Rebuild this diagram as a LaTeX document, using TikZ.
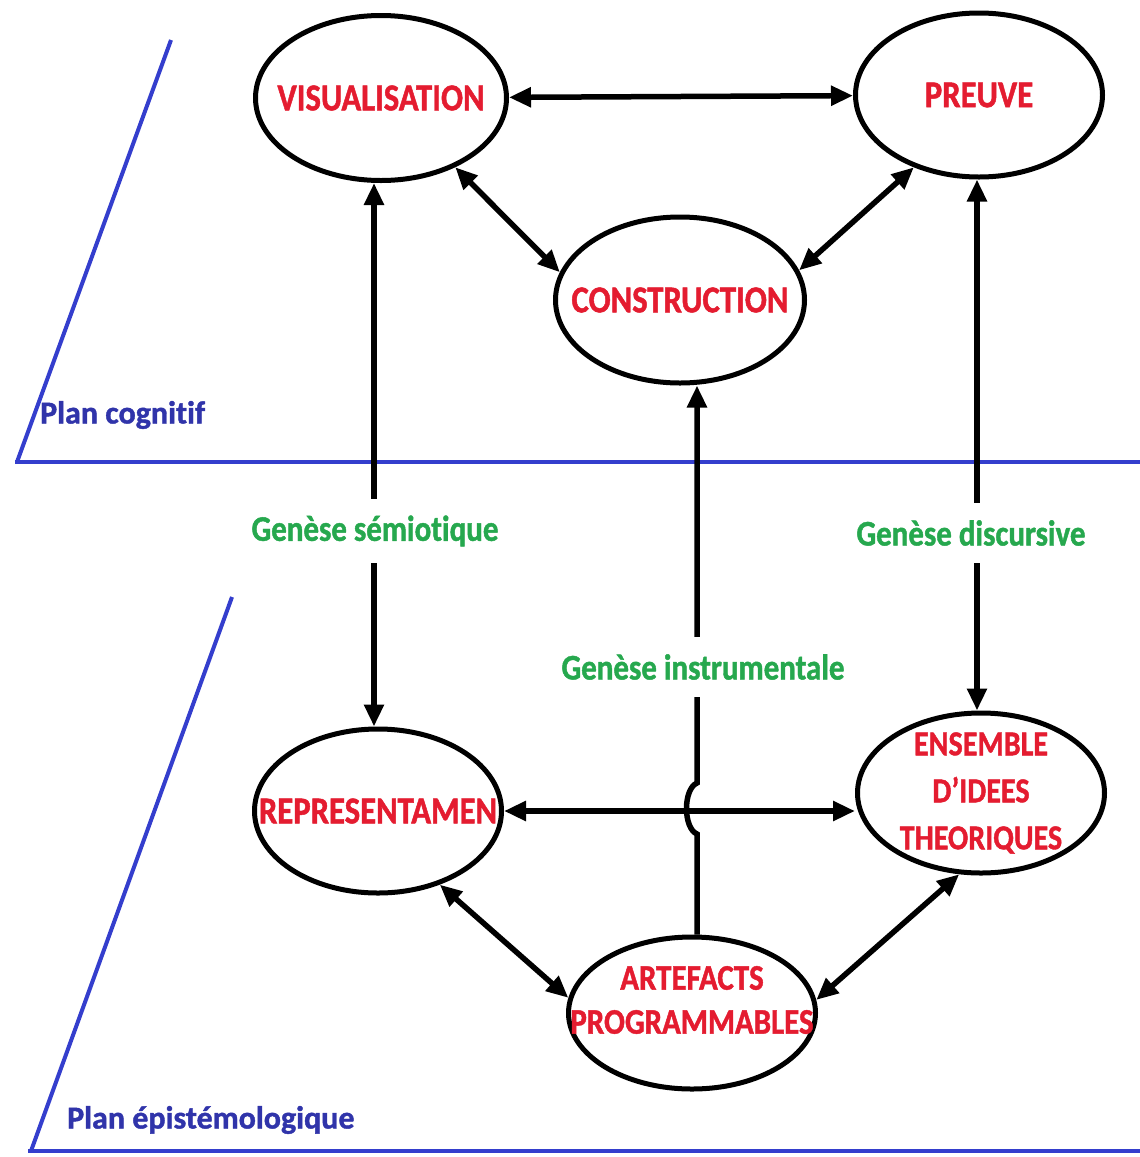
\documentclass[tikz,border=0pt]{standalone}
\usepackage{fontspec}
\setmainfont{Carlito}
\newfontfamily\diagfont[FakeStretch=0.86,FakeBold=1.2,Ligatures=NoCommon]{Carlito Bold}
\newfontfamily\planfont[FakeBold=1.2,Ligatures=NoCommon]{Carlito Bold}
\usetikzlibrary{arrows.meta,shapes.geometric}
\definecolor{planblue}{RGB}{52,62,205}
\definecolor{plantext}{RGB}{48,52,170}
\definecolor{termred}{RGB}{228,28,48}
\definecolor{genesegreen}{RGB}{38,168,78}

\begin{document}
\begin{tikzpicture}[x=1pt,y=-1pt,
  oval/.style={ellipse, draw=black, line width=5pt, inner sep=0pt},
  term/.style={text=termred, font=\diagfont\fontsize{38}{44}\selectfont, align=center, inner sep=0pt},
  genese/.style={text=genesegreen, font=\diagfont\fontsize{36}{42}\selectfont, fill=white, inner xsep=4pt, inner ysep=17pt},
  plan/.style={text=plantext, font=\planfont\fontsize{32}{38}\selectfont, anchor=west, inner sep=0pt},
  planline/.style={draw=planblue, line width=4pt},
  link/.style={line width=5.5pt, draw=black},
  tip/.style={},
  both/.style={link, {Triangle[length=22pt,width=19pt]}-{Triangle[length=22pt,width=19pt]}},
  one/.style={link, -{Triangle[length=22pt,width=19pt]}}
]
\path[fill=white] (0,0) rectangle (1140,1157);
\useasboundingbox (0,0) rectangle (1140,1157);

% the two planes
\draw[planline] (171,40) -- (17,462);
\draw[planline] (15,462) -- (1140,462);
\draw[planline] (232,597) -- (31,1151);
\draw[planline] (28,1151) -- (1140,1151);
\node[plan] (pcog) at (40,415) {Plan cognitif};
\node[plan] (pepi) at (67,1120) {Plan épistémologique};

% cognitive plane
\node[oval, minimum width=251pt, minimum height=165pt,
  label={[term]center:VISUALISATION}] (vis) at (381,98) {};
\node[oval, minimum width=247pt, minimum height=164pt,
  label={[term]center:PREUVE}] (pre) at (979,95) {};
\node[oval, minimum width=249pt, minimum height=166pt,
  label={[term]center:CONSTRUCTION}] (cons) at (680,300) {};

% epistemological plane
\node[oval, minimum width=247pt, minimum height=164pt,
  label={[term]center:REPRESENTAMEN}] (rep) at (378,811) {};
\node[oval, minimum width=247pt, minimum height=160pt,
  label={[term, font=\diagfont\fontsize{35}{47}\selectfont]center:ENSEMBLE\\D’IDEES\\THEORIQUES}] (ens) at (981,793) {};
\node[oval, minimum width=247pt, minimum height=152pt,
  label={[term, font=\diagfont\fontsize{36}{44}\selectfont, yshift=13pt]center:ARTEFACTS\\PROGRAMMABLES}] (art) at (692,1013) {};

% relations inside each plane
\draw[both] (vis) -- (pre);
\draw[both] (vis.-43) -- (cons.167);
\draw[both] (pre.-132) -- (cons.14);
\draw[both] (rep.east) -- (rep.east -| ens.west);
\draw[both] (rep.-50) -- (art.173);
\draw[both] (ens.-105) -- (art.6);

% geneses between the planes
\coordinate (semx) at (374,0);
\coordinate (discx) at (977,0);
\coordinate (instx) at (697,0);
\coordinate (hopb) at (697,834);
\coordinate (hopt) at (697,783);
\draw[both] (semx |- rep.north) -- (semx |- vis.south);
\draw[both] (discx |- ens.north) -- (discx |- pre.south);
\draw[one] (instx |- art.north) -- (hopb) .. controls (683,828) and (683,789) .. (hopt) -- (instx |- cons.south);

\node[genese] (gsem) at (375,531) {Genèse sémiotique};
\node[genese] (gdisc) at (971,533) {Genèse discursive};
\node[genese] (ginst) at (703,667) {Genèse instrumentale};
\end{tikzpicture}
\end{document}
